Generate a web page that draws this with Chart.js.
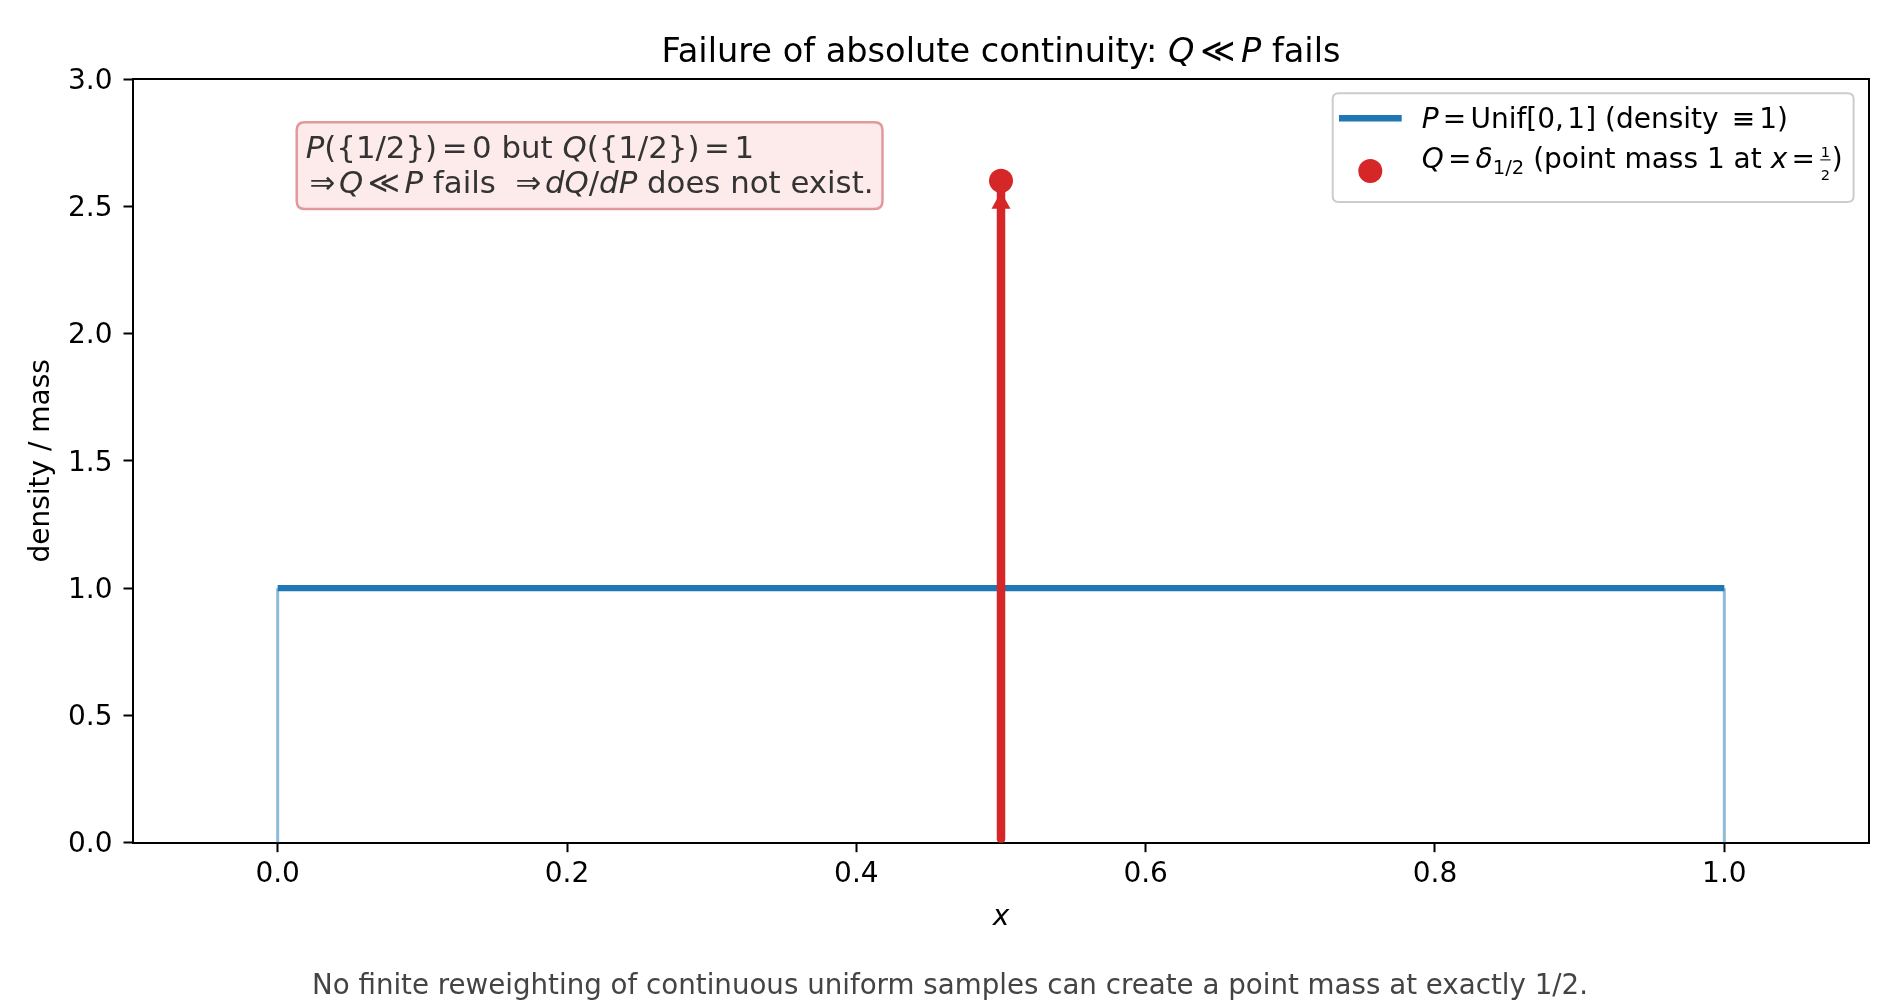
<!DOCTYPE html>
<html><head><meta charset="utf-8">
<script src="https://cdn.jsdelivr.net/npm/chart.js@4.4.1/dist/chart.umd.min.js"></script>
<style>html,body{margin:0;padding:0;background:#fff;} canvas{display:block;}</style>
</head><body>
<canvas id="c" width="1900" height="1000"></canvas>
<script>
// ---- data ----
const xTicks = [0, 0.2, 0.4, 0.6, 0.8, 1.0];
const yTicks = [0, 0.5, 1.0, 1.5, 2.0, 2.5, 3.0];
const xRange = [-0.1, 1.1];
const yRange = [0, 3];
const uniformX = [0, 1];
const uniformY = [1, 1];
const edgeX = [0, 1];
const edgeY = [0, 1];
const pointX = [0.5];
const pointY = [2.6];
const stemY = [0.015, 2.6];

const FONT = '"DejaVu Sans", sans-serif';
const BLUE = '#1f77b4', RED = '#d62728';
const F_TICK = 28, F_TITLE = 33.6, F_LEG = 28, F_NOTE = 30.8, F_FOOT = 27.7, F_LAB = 28;

function drawRich(ctx, segs, x, y, size, color, align, measureOnly) {
  const items = [];
  let w = 0;
  for (const s of segs) {
    if (s.gap !== undefined) { items.push({gap: s.gap * size}); w += s.gap * size; continue; }
    if (s.frac) {
      const fs = size * 0.52;
      ctx.font = fs + 'px ' + FONT;
      const mw = Math.max(ctx.measureText(s.frac[0]).width, ctx.measureText(s.frac[1]).width) + size * 0.12;
      items.push({frac: s.frac, fs, mw}); w += mw; continue;
    }
    const fs = size * (s.scale || 1);
    const font = (s.i ? 'italic ' : '') + fs + 'px ' + FONT;
    ctx.font = font;
    const mw = ctx.measureText(s.t).width;
    items.push({t: s.t, font, mw, dy: (s.dy || 0) * size});
    w += mw;
  }
  if (measureOnly) return w;
  let cx = align === 'center' ? x - w / 2 : x;
  ctx.save();
  ctx.fillStyle = color; ctx.strokeStyle = color;
  ctx.textBaseline = 'alphabetic'; ctx.textAlign = 'left';
  for (const it of items) {
    if (it.gap !== undefined) { cx += it.gap; continue; }
    if (it.frac) {
      ctx.font = it.fs + 'px ' + FONT;
      ctx.textAlign = 'center';
      const mid = cx + it.mw / 2;
      ctx.fillText(it.frac[0], mid, y - size * 0.40);
      ctx.fillText(it.frac[1], mid, y + size * 0.42);
      ctx.lineWidth = 1;
      ctx.beginPath(); ctx.moveTo(cx + size * 0.04, y - size * 0.3); ctx.lineTo(cx + it.mw - size * 0.04, y - size * 0.3); ctx.stroke();
      ctx.textAlign = 'left';
      cx += it.mw; continue;
    }
    ctx.font = it.font;
    ctx.fillText(it.t, cx, y + it.dy);
    cx += it.mw;
  }
  ctx.restore();
  return w;
}

const titleSegs = [{t:'Failure of absolute continuity: '},{t:'Q',i:true},{gap:0.17},{t:'≪'},{gap:0.17},{t:'P',i:true},{t:' fails'}];
const legend1 = [{t:'P',i:true},{gap:0.15},{t:'='},{gap:0.15},{t:'Unif[0,'},{gap:0.12},{t:'1] (density '},{gap:0.15},{t:'≡'},{gap:0.15},{t:'1)'}];
const legend2 = [{t:'Q',i:true},{gap:0.15},{t:'='},{gap:0.15},{t:'δ',i:true},{t:'1/2',scale:0.7,dy:0.2},{t:' (point mass 1 at '},{t:'x',i:true},{gap:0.15},{t:'='},{gap:0.15},{frac:['1','2']},{t:')'}];
const note1 = [{t:'P',i:true},{t:'({1/2})'},{gap:0.15},{t:'='},{gap:0.15},{t:'0 but '},{t:'Q',i:true},{t:'({1/2})'},{gap:0.15},{t:'='},{gap:0.15},{t:'1'}];
const note2 = [{gap:0.12},{t:'⇒'},{gap:0.12},{t:'Q',i:true},{gap:0.15},{t:'≪'},{gap:0.15},{t:'P',i:true},{t:' fails  '},{t:'⇒'},{gap:0.12},{t:'dQ',i:true},{t:'/'},{t:'dP',i:true},{t:' does not exist.'}];

function roundRect(ctx, x, y, w, h, r) {
  ctx.beginPath();
  ctx.moveTo(x + r, y); ctx.lineTo(x + w - r, y); ctx.quadraticCurveTo(x + w, y, x + w, y + r);
  ctx.lineTo(x + w, y + h - r); ctx.quadraticCurveTo(x + w, y + h, x + w - r, y + h);
  ctx.lineTo(x + r, y + h); ctx.quadraticCurveTo(x, y + h, x, y + h - r);
  ctx.lineTo(x, y + r); ctx.quadraticCurveTo(x, y, x + r, y); ctx.closePath();
}

const decor = {
  id: 'decor',
  afterDatasetDraw(chart, args) {
    if (args.meta.label !== 'stem') return;
    const ctx = chart.ctx;
    const px = chart.scales.x.getPixelForValue(pointX[0]);
    const py = chart.scales.y.getPixelForValue(pointY[0]);
    ctx.save();
    ctx.fillStyle = RED;
    ctx.beginPath();
    ctx.moveTo(px, py + 11);
    ctx.lineTo(px + 9.5, py + 28);
    ctx.lineTo(px - 9.5, py + 28);
    ctx.closePath(); ctx.fill();
    ctx.restore();
  },
  afterDraw(chart) {
    const ctx = chart.ctx;
    const a = chart.chartArea;
    ctx.save();
    // top & right spines
    ctx.strokeStyle = '#000'; ctx.lineWidth = 2;
    ctx.beginPath();
    ctx.moveTo(a.left, a.top); ctx.lineTo(a.right, a.top); ctx.lineTo(a.right, a.bottom);
    ctx.stroke();
    // title
    drawRich(ctx, titleSegs, (a.left + a.right) / 2, 61.7, F_TITLE, '#000', 'center');
    // axis labels
    ctx.fillStyle = '#000';
    ctx.font = F_LAB + 'px ' + FONT;
    ctx.textAlign = 'center'; ctx.textBaseline = 'middle';
    ctx.save(); ctx.translate(42, (a.top + a.bottom) / 2); ctx.rotate(-Math.PI / 2);
    ctx.fillText('density / mass', 0, 0); ctx.restore();
    ctx.font = 'italic ' + F_LAB + 'px ' + FONT;
    ctx.textBaseline = 'alphabetic';
    ctx.fillText('x', (a.left + a.right) / 2, 925);
    // footer
    ctx.font = F_FOOT + 'px ' + FONT;
    ctx.fillStyle = '#444';
    ctx.fillText('No finite reweighting of continuous uniform samples can create a point mass at exactly 1/2.', 950, 993.5);

    // annotation box
    const tmpW1 = drawRich(ctx, note1, 0, 0, F_NOTE, '#333', 'left', true);
    const tmpW2 = drawRich(ctx, note2, 0, 0, F_NOTE, '#333', 'left', true);
    const bx = 296.7, by = 122.3, bh = 86.7;
    const bw = Math.max(tmpW1, tmpW2) + 18;
    roundRect(ctx, bx, by, bw, bh, 8);
    ctx.fillStyle = '#fdeaea'; ctx.fill();
    ctx.strokeStyle = '#e09a9b'; ctx.lineWidth = 2.5; ctx.stroke();
    drawRich(ctx, note1, bx + 9, 158.3, F_NOTE, '#333', 'left');
    drawRich(ctx, note2, bx + 9, 192.7, F_NOTE, '#333', 'left');

    // legend
    const lw1 = drawRich(ctx, legend1, 0, 0, F_LEG, '#000', 'left', true);
    const lw2 = drawRich(ctx, legend2, 0, 0, F_LEG, '#000', 'left', true);
    const lx = 1332.7, ly = 93.3, lh = 108.7;
    const lwid = 1421.7 - lx + Math.max(lw1, lw2) + 11;
    roundRect(ctx, lx, ly, lwid, lh, 6);
    ctx.fillStyle = 'rgba(255,255,255,0.8)'; ctx.fill();
    ctx.strokeStyle = '#cccccc'; ctx.lineWidth = 2; ctx.stroke();
    ctx.strokeStyle = BLUE; ctx.lineWidth = 6.4; ctx.lineCap = 'butt';
    ctx.beginPath(); ctx.moveTo(1339, 118.3); ctx.lineTo(1401.7, 118.3); ctx.stroke();
    ctx.fillStyle = RED;
    ctx.beginPath(); ctx.arc(1370.3, 171, 12, 0, Math.PI * 2); ctx.fill();
    drawRich(ctx, legend1, 1421.7, 128.3, F_LEG, '#000', 'left');
    drawRich(ctx, legend2, 1421.7, 168.3, F_LEG, '#000', 'left');
    ctx.restore();
  }
};

const pts = (xs, ys) => xs.map((x, i) => ({x, y: ys[i]}));

new Chart(document.getElementById('c'), {
  type: 'scatter',
  data: {
    datasets: [
      {label: 'Q point', data: pts(pointX, pointY), pointRadius: 12, pointBackgroundColor: RED, pointBorderWidth: 0, showLine: false, order: 0},
      {label: 'stem', data: pts([pointX[0], pointX[0]], stemY), showLine: true, borderColor: RED, borderWidth: 8.5, borderCapStyle: 'round', pointRadius: 0, order: 1},
      {label: 'P density', data: pts(uniformX, uniformY), showLine: true, borderColor: BLUE, borderWidth: 6.4, pointRadius: 0, order: 2},
      {label: 'edgeL', data: pts([edgeX[0], edgeX[0]], edgeY), showLine: true, borderColor: 'rgba(31,119,180,0.5)', borderWidth: 3, pointRadius: 0, order: 3},
      {label: 'edgeR', data: pts([edgeX[1], edgeX[1]], edgeY), showLine: true, borderColor: 'rgba(31,119,180,0.5)', borderWidth: 3, pointRadius: 0, order: 3}
    ]
  },
  options: {
    responsive: false, animation: false, devicePixelRatio: 1,
    layout: {padding: {left: 0, right: 31, top: 79, bottom: 0}},
    plugins: {legend: {display: false}, tooltip: {enabled: false}, title: {display: false}},
    scales: {
      x: {
        type: 'linear', min: xRange[0], max: xRange[1],
        afterBuildTicks: s => { s.ticks = xTicks.map(v => ({value: v})); },
        afterFit: s => { s.height = 157.3; },
        ticks: {callback: v => Number(v).toFixed(1), font: {family: 'DejaVu Sans', size: F_TICK}, color: '#000', padding: 6, maxRotation: 0, autoSkip: false},
        grid: {display: true, drawOnChartArea: false, drawTicks: true, tickLength: 9.5, tickWidth: 2, tickColor: '#000'},
        border: {display: true, color: '#000', width: 2}
      },
      y: {
        type: 'linear', min: yRange[0], max: yRange[1],
        afterBuildTicks: s => { s.ticks = yTicks.map(v => ({value: v})); },
        afterFit: s => { s.width = 133; },
        ticks: {callback: v => Number(v).toFixed(1), font: {family: 'DejaVu Sans', size: F_TICK}, color: '#000', padding: 11, labelOffset: 2.5, autoSkip: false},
        grid: {display: true, drawOnChartArea: false, drawTicks: true, tickLength: 9.5, tickWidth: 2, tickColor: '#000'},
        border: {display: true, color: '#000', width: 2}
      }
    }
  },
  plugins: [decor]
});
</script>
</body></html>
